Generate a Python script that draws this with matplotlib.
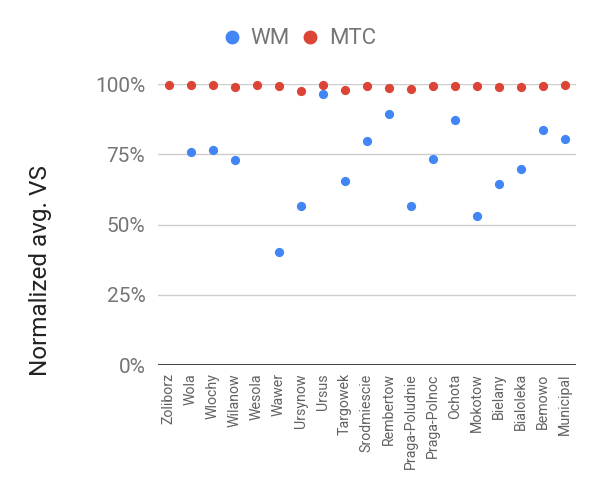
import matplotlib
matplotlib.use("Agg")
import matplotlib.pyplot as plt
from matplotlib.lines import Line2D

plt.rcParams['font.family'] = ['Roboto', 'DejaVu Sans']

nan = float("nan")
districts = ["Zoliborz", "Wola", "Wlochy", "Wilanow", "Wesola", "Wawer", "Ursynow",
             "Ursus", "Targowek", "Srodmiescie", "Rembertow", "Praga-Poludnie",
             "Praga-Polnoc", "Ochota", "Mokotow", "Bielany", "Bialoleka", "Bemowo",
             "Municipal"]
wm = [nan, 75.9, 76.4, 73.0, nan, 40.3, 56.7, 96.3, 65.4, 79.6, 89.3, 56.5,
      73.4, 87.3, 52.9, 64.3, 69.8, 83.6, 80.4]
mtc = [99.7, 99.5, 99.6, 98.8, 99.7, 99.3, 97.6, 99.6, 97.9, 99.4, 98.6, 98.3,
       99.3, 99.4, 99.3, 98.8, 98.8, 99.3, 99.6]
yticks = [0, 25, 50, 75, 100]
ytick_labels = ["0%", "25%", "50%", "75%", "100%"]

blue = "#4285F4"
red = "#DB4437"

fig = plt.figure(figsize=(6, 4.93), dpi=100)
ax = fig.add_axes([0.263, 0.2596, 0.697, 0.5700])

x = list(range(len(districts)))
ax.scatter(x, wm, s=44, color=blue, zorder=3, clip_on=False, linewidths=0)
ax.scatter(x, mtc, s=44, color=red, zorder=4, clip_on=False, linewidths=0)

ax.set_xlim(-0.5, len(districts) - 0.5)
ax.set_ylim(0, 100)
ax.set_yticks(yticks)
ax.set_yticklabels(ytick_labels, fontsize=15, color="#757575")
ax.set_xticks(x)
ax.set_xticklabels(districts, rotation=90, fontsize=10.2, color="#616161")
ax.tick_params(axis='both', length=0)
ax.tick_params(axis='y', pad=9)
ax.tick_params(axis='x', pad=6)

for t in yticks[1:]:
    ax.axhline(t, color="#cccccc", lw=1, zorder=1)
ax.axhline(0, color="#333333", lw=1.3, zorder=2)
for s in ax.spines.values():
    s.set_visible(False)

fig.text(0.068, 0.452, "Normalized avg. VS", rotation=90, fontsize=17.5,
         color="#222222", ha="center", va="center")

handles = [Line2D([], [], marker='o', ls='', color=blue, markersize=9),
           Line2D([], [], marker='o', ls='', color=red, markersize=9)]
fig.legend(handles, ["WM", "MTC"], loc="center", bbox_to_anchor=(0.499, 0.921),
           ncol=2, frameon=False, fontsize=16, handlelength=0.8,
           handletextpad=0.45, columnspacing=0.5, labelcolor="#757575")

fig.savefig("out.png", dpi=100)
